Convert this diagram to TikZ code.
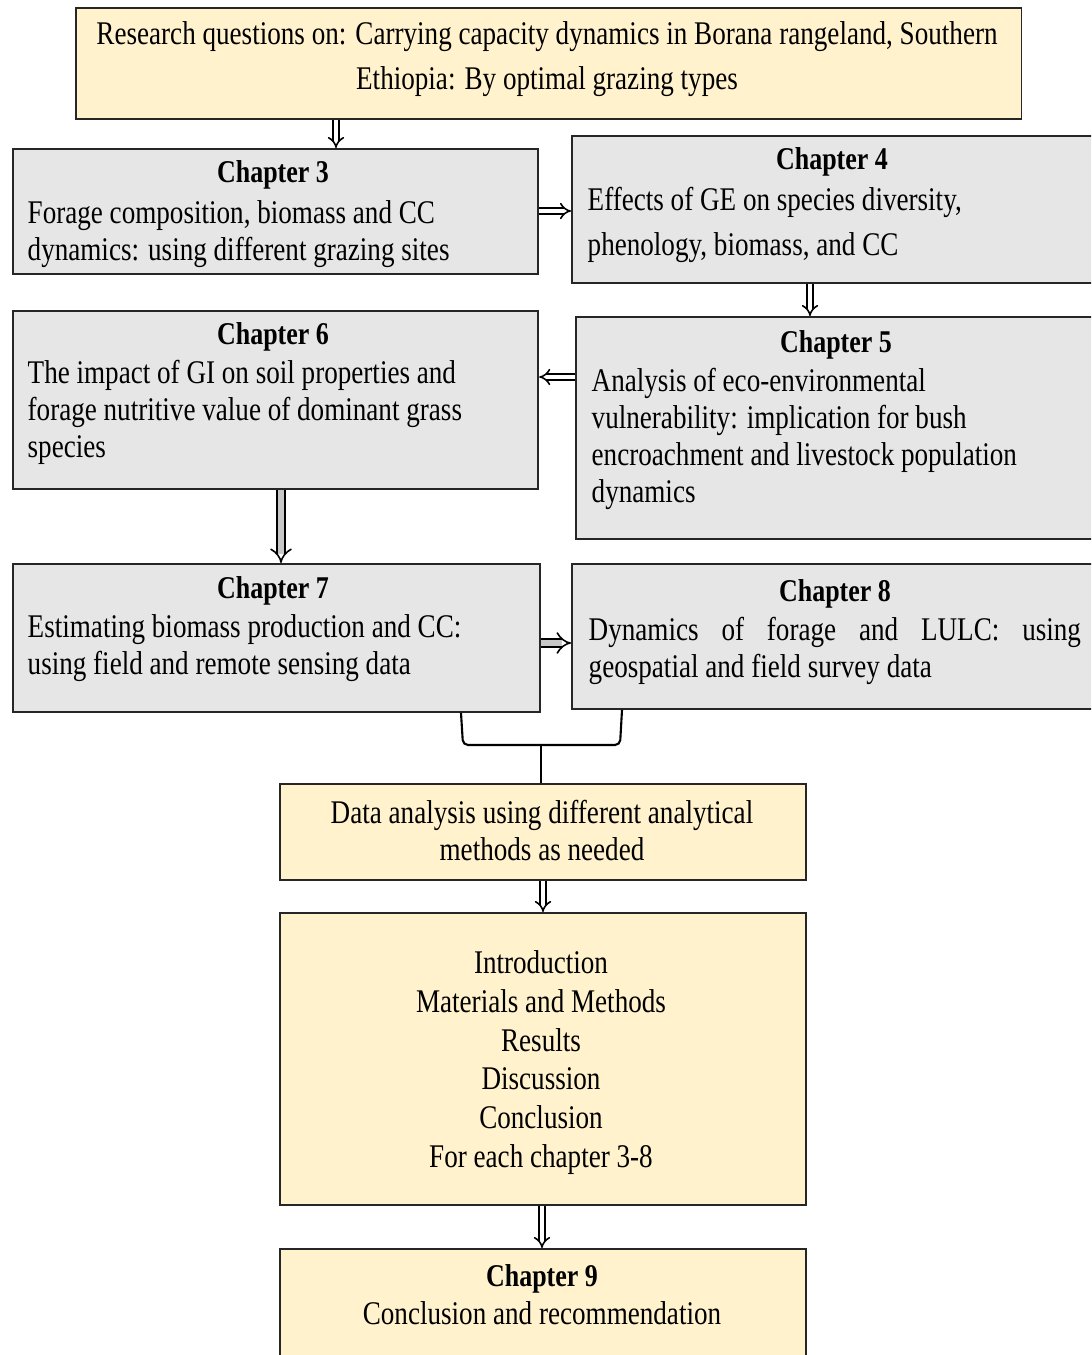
\documentclass[tikz,border=0pt]{standalone}
\usepackage{fontspec}
\setmainfont{Liberation Serif}[FakeStretch=0.82]
\usetikzlibrary{arrows.meta}
\definecolor{boxyellow}{HTML}{FFF2CC}
\definecolor{boxgrey}{HTML}{E6E6E6}
\definecolor{arrowgrey}{HTML}{C8C8C8}

\begin{document}
\begin{tikzpicture}[x=0.01cm,y=-0.01cm,
  box/.style={draw=black!85, line width=0.55pt, anchor=north west, inner sep=0pt},
  ybox/.style={box, fill=boxyellow},
  gbox/.style={box, fill=boxgrey},
  chtitle/.style={anchor=base, inner sep=0pt, font=\fontsize{9}{10.5}\selectfont\bfseries},
  chbody/.style={anchor=north west, inner sep=0pt, align=left, font=\fontsize{9.4}{10.5}\selectfont},
  cbody/.style={anchor=north, inner sep=0pt, align=center, font=\fontsize{9.4}{10.5}\selectfont},
  dbl/.style={double=white, double distance=0.04cm, line width=0.45pt, -{Implies}},
  gdbl/.style={dbl, double=arrowgrey, double distance=0.06cm},
  brc/.style={line width=0.6pt, rounded corners=0.05cm}]

\clip (0,0) rectangle (1091,1355);

% research questions
\node[ybox, minimum width=9.45cm, minimum height=1.11cm] (rq) at (75,7) {};
\node[cbody, font=\fontsize{9.4}{12.8}\selectfont] (rqt) at (547,21) {Research questions on: Carrying capacity dynamics in Borana rangeland, Southern\\ Ethiopia: By optimal grazing types};

% chapter 3
\node[gbox, minimum width=5.25cm, minimum height=1.25cm] (ch3) at (12,148) {};
\node[chtitle] (ch3t) at (273,183) {Chapter 3};
\node[chbody] (ch3b) at (27,200) {Forage composition, biomass and CC\\ dynamics: using different grazing sites};

% chapter 4
\node[gbox, minimum width=5.30cm, minimum height=1.47cm] (ch4) at (571,135) {};
\node[chtitle] (ch4t) at (832,170) {Chapter 4};
\node[chbody, font=\fontsize{9.4}{12.8}\selectfont] (ch4b) at (587,187) {Effects of GE on species diversity,\\ phenology, biomass, and CC};

% chapter 6
\node[gbox, minimum width=5.25cm, minimum height=1.78cm] (ch6) at (12,310) {};
\node[chtitle] (ch6t) at (273,345) {Chapter 6};
\node[chbody] (ch6b) at (27,360) {The impact of GI on soil properties and\\ forage nutritive value of dominant grass\\ species};

% chapter 5
\node[gbox, minimum width=5.30cm, minimum height=2.22cm] (ch5) at (575,316) {};
\node[chtitle] (ch5t) at (836,353) {Chapter 5};
\node[chbody] (ch5b) at (591,368) {Analysis of eco-environmental\\ vulnerability: implication for bush\\ encroachment and livestock population\\ dynamics};

% chapter 7
\node[gbox, minimum width=5.27cm, minimum height=1.48cm] (ch7) at (12,563) {};
\node[chtitle] (ch7t) at (273,598) {Chapter 7};
\node[chbody] (ch7b) at (27,614) {Estimating biomass production and CC:\\ using field and remote sensing data};

% chapter 8
\node[gbox, minimum width=5.30cm, minimum height=1.45cm] (ch8) at (571,563) {};
\node[chtitle] (ch8t) at (835,601) {Chapter 8};
\node[chbody] (ch8b) at (588,617) {\makebox[4.92cm][s]{Dynamics of forage and LULC: using}\\ geospatial and field survey data};

% data analysis
\node[ybox, minimum width=5.26cm, minimum height=0.96cm] (da) at (279,783) {};
\node[cbody] (dat) at (542,800) {Data analysis using different analytical\\ methods as needed};

% manuscript parts
\node[ybox, minimum width=5.26cm, minimum height=2.92cm] (ms) at (279,912) {};
\node[cbody, font=\fontsize{9.4}{11}\selectfont] (mst) at (541,950) {Introduction\\ Materials and Methods\\ Results\\ Discussion\\ Conclusion\\ For each chapter 3-8};

% chapter 9
\node[ybox, minimum width=5.26cm, minimum height=1.20cm] (ch9) at (279,1248) {};
\node[chtitle] (ch9t) at (542,1286) {Chapter 9};
\node[cbody] (ch9b) at (542,1301) {Conclusion and recommendation};

% arrows
\draw[dbl] (336,0 |- rq.south) -- (336,0 |- ch3.north);
\draw[dbl] (ch3.east |- 0,211) -- (ch4.west |- 0,211);
\draw[dbl] (810,0 |- ch4.south) -- (810,0 |- ch5.north);
\draw[dbl] (ch5.west |- 0,377) -- (ch6.east |- 0,377);
\draw[gdbl] (281,0 |- ch6.south) -- (281,0 |- ch7.north);
\draw[gdbl] (ch7.east |- 0,643) -- (ch8.west |- 0,643);
\draw[dbl] (543,0 |- da.south) -- (543,0 |- ms.north);
\draw[dbl] (542,0 |- ms.south) -- (542,0 |- ch9.north);

% brace
\coordinate (bmid) at (541,745);
\draw[brc] (461,0 |- ch7.south) -- (463,745) -- (bmid);
\draw[brc] (622,0 |- ch8.south) -- (620,745) -- (bmid);
\draw[line width=0.6pt] (bmid) -- (541,0 |- da.north);

\end{tikzpicture}
\end{document}
